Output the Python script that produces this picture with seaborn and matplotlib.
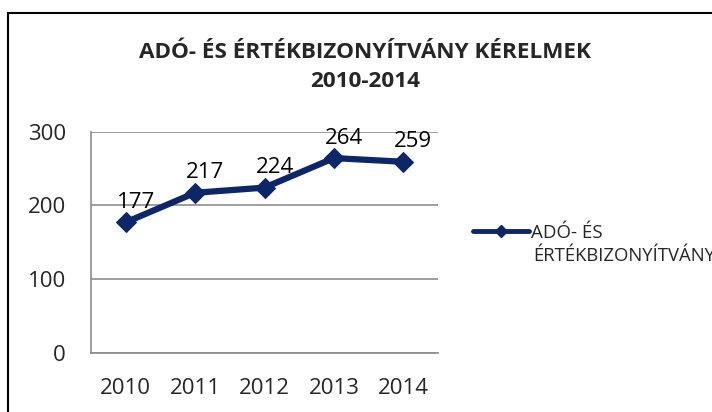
import numpy as np
import pandas as pd
import matplotlib
matplotlib.use("Agg")
import matplotlib.pyplot as plt
import seaborn as sns
from matplotlib.lines import Line2D
from matplotlib.patches import Rectangle

# ---------------------------------------------------------
# Data
# ---------------------------------------------------------
years = ["2010", "2011", "2012", "2013", "2014"]
requests = [177, 217, 224, 264, 259]
series_name = "ADÓ- ÉS ÉRTÉKBIZONYÍTVÁNY"
title = "ADÓ- ÉS ÉRTÉKBIZONYÍTVÁNY KÉRELMEK\n2010-2014"
y_ticks = [0, 100, 200, 300]

df = pd.DataFrame({"pos": np.arange(len(years)), "value": requests})

# ---------------------------------------------------------
# Style
# ---------------------------------------------------------
sns.set_style("white")
plt.rcParams["font.family"] = ["Open Sans", "DejaVu Sans"]

line_color = "#0D2667"
grid_color = "#8C8C8C"

fig = plt.figure(figsize=(7.12, 4.12), dpi=100)
ax = fig.add_axes([0.1278, 0.1432, 0.4874, 0.5376])

sns.lineplot(data=df, x="pos", y="value", ax=ax, color=line_color,
             linewidth=4.5, marker="D", markersize=10,
             markeredgecolor=line_color, legend=False)

# data labels
for x, v in zip(df["pos"], df["value"]):
    ax.annotate(str(v), (x, v), xytext=(10, 20), textcoords="offset pixels",
                ha="center", va="center", fontsize=16, color="black")

# axes
ax.set_xlim(-0.5, len(years) - 0.5)
ax.set_ylim(0, 300)
ax.set_yticks(y_ticks)
ax.set_xticks(df["pos"])
ax.set_xticklabels(years)
ax.set_xticks(np.arange(len(years) + 1) - 0.5, minor=True)
ax.tick_params(axis="x", which="major", length=0, pad=18, labelsize=16)
ax.tick_params(axis="x", which="minor", length=6, width=1.2,
               color=grid_color, direction="out")
ax.tick_params(axis="y", length=6, width=1.2, color=grid_color,
               direction="out", pad=12, labelsize=16)
ax.set_xlabel("")
ax.set_ylabel("")

ax.yaxis.grid(True, color=grid_color, linewidth=1.2)
ax.xaxis.grid(False)
for side in ["top", "right"]:
    ax.spines[side].set_visible(False)
for side in ["left", "bottom"]:
    ax.spines[side].set_color(grid_color)
    ax.spines[side].set_linewidth(1.2)

# title
fig.text(365 / 712, 1 - 67 / 412, title, ha="center", va="center",
         fontsize=16.2, fontweight="bold", linespacing=1.45)

# legend (the second line runs off the right edge, as in the original)
handle = Line2D([], [], color=line_color, linewidth=3.5, marker="D",
                markersize=6)
words = series_name.split(" ")
fig.legend([handle], [" ".join(words[:2])], loc="center left",
           bbox_to_anchor=(473 / 712, 1 - 233 / 412), frameon=False,
           fontsize=13.5, handlelength=3.0, handletextpad=0.1,
           borderaxespad=0, borderpad=0)
fig.text(533 / 712, 1 - 256 / 412, " ".join(words[2:]), ha="left",
         va="center", fontsize=13.3)

# chart border
fig.patches.append(Rectangle((8 / 712, -0.1), 1.2, 1 - 13 / 412 + 0.1,
                             transform=fig.transFigure, fill=False,
                             edgecolor="black", linewidth=1.5))

plt.savefig("out.png", dpi=100)
plt.close()
